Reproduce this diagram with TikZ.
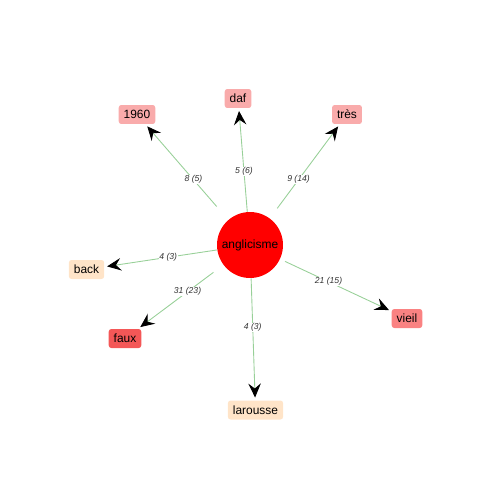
\documentclass[tikz,border=0pt]{standalone}
\usepackage{fontspec}
\setmainfont{Liberation Sans}
\usetikzlibrary{arrows.meta}

\definecolor{hubred}{HTML}{FF0000}
\definecolor{palered}{HTML}{F9ABAB}
\definecolor{midred}{HTML}{FA8282}
\definecolor{deepred}{HTML}{F45757}
\definecolor{peach}{HTML}{FFE4C8}
\definecolor{edgegreen}{HTML}{98D098}

\begin{document}
\begin{tikzpicture}[
	x=0.02cm, y=-0.02cm,
	hub/.style={circle, fill=hubred, minimum size=1.32cm, inner sep=0pt, font=\fontsize{6.8}{8}\selectfont},
	word/.style={rectangle, rounded corners=1.5pt, minimum height=0.38cm, inner xsep=0.1cm, inner ysep=0pt, font=\fontsize{6.8}{8}\selectfont},
	link/.style={draw=edgegreen, line width=0.5pt, -{Stealth[length=2.8mm, width=2.5mm, inset=1mm, black]}, shorten >=1.5pt},
	count/.style={font=\fontsize{4.9}{5.5}\itshape, text=black!80, fill=white, inner sep=0.3pt}
]
	\useasboundingbox (0,0) rectangle (500,500);

	\node[hub] (c) at (250,245) {anglicisme};

	\node[word, fill=palered] (n1960) at (137,114.5) {1960};
	\node[word, fill=palered] (daf) at (238,98.5) {daf};
	\node[word, fill=palered] (tres) at (347,114.5) {très};
	\node[word, fill=peach] (back) at (86.5,269.5) {back};
	\node[word, fill=deepred] (faux) at (125,338.5) {faux};
	\node[word, fill=midred] (vieil) at (407,318.5) {vieil};
	\node[word, fill=peach] (larousse) at (255.5,410) {larousse};

	% edges
	\draw[link, shorten <=10pt] (c) -- (n1960);
	\draw[link] (c) -- (daf);
	\draw[link, shorten <=7pt] (c) -- (tres);
	\draw[link] (c) -- (back);
	\draw[link, shorten <=7pt] (c) -- (faux);
	\draw[link, shorten <=3pt] (c) -- (vieil);
	\draw[link] (c) -- (larousse);

	% counts
	\path (c.center) -- node[count] {8 (5)} (n1960.center);
	\path (c.center) -- node[count] {5 (6)} (daf.center);
	\path (c.center) -- node[count] {9 (14)} (tres.center);
	\path (c.center) -- node[count] {4 (3)} (back.center);
	\path (c.center) -- node[count] {31 (23)} (faux.center);
	\path (c.center) -- node[count] {21 (15)} (vieil.center);
	\path (c.center) -- node[count] {4 (3)} (larousse.center);
\end{tikzpicture}
\end{document}
